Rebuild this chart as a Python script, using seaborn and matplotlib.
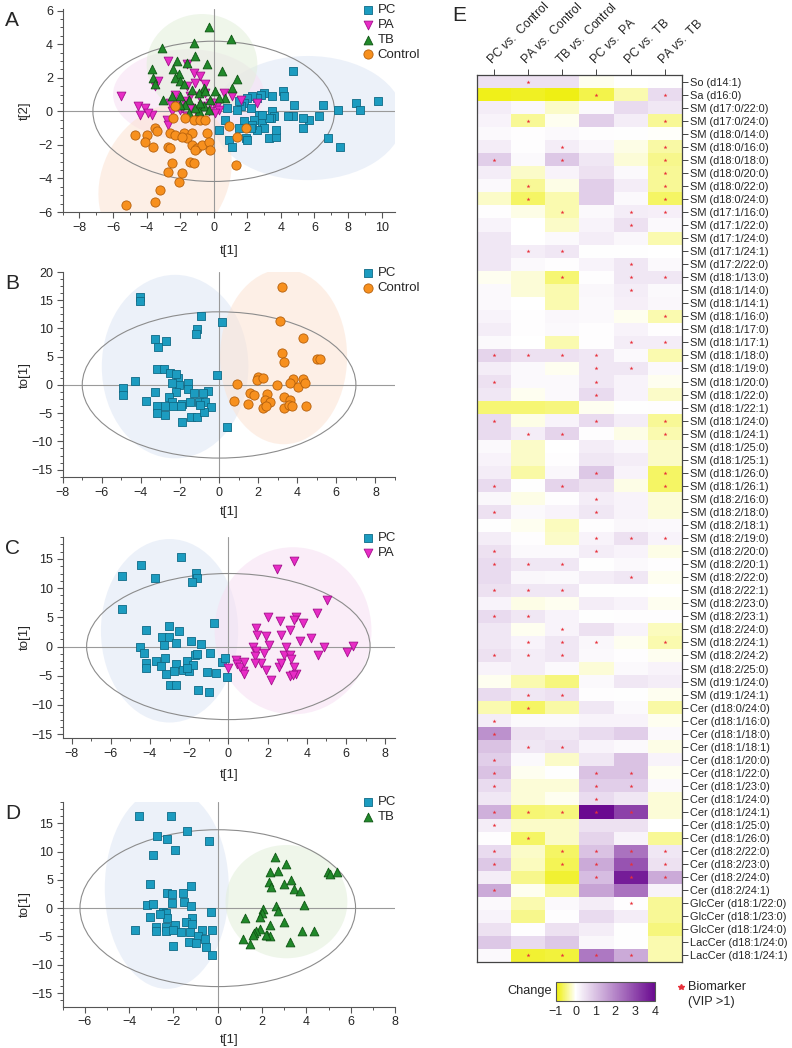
import numpy as np
import pandas as pd
import matplotlib
matplotlib.use("Agg")
import matplotlib.pyplot as plt
import seaborn as sns
from matplotlib.patches import Ellipse
from matplotlib.lines import Line2D
from matplotlib.colors import LinearSegmentedColormap, Normalize
from matplotlib.cm import ScalarMappable
from matplotlib.ticker import MultipleLocator, AutoMinorLocator

# ---------------- score plot data ----------------
a_pc = [(4.7, 2.4), (9.8, 0.6), (8.5, 0.5), (8.7, 0.1), (7.4, 0.1), (6.5, 0.4), (6.3, -0.3),
        (5.7, -0.5), (5.3, -0.4), (5.3, -1.0), (4.8, 0.4), (4.7, -0.3), (4.4, -0.3), (4.1, 1.2),
        (4.2, 0.9), (3.5, 0.9), (3.5, 0.0), (3.6, -0.3), (3.4, -0.4), (3.0, 1.1), (2.8, 1.0),
        (2.6, 0.8), (2.3, 0.9), (2.0, 0.8), (1.8, 0.5), (1.6, 0.3), (1.4, 0.1), (2.2, 0.2),
        (2.7, -0.2), (2.4, -0.5), (2.9, -0.7), (3.0, -1.0), (2.6, -1.1), (2.3, -0.8), (2.2, -1.0),
        (1.8, -0.6), (1.5, -1.0), (1.9, -1.6), (2.0, -1.7), (3.3, -1.6), (3.7, -1.5), (3.7, -1.1),
        (6.8, -1.6), (7.5, -2.1), (0.7, -0.5), (0.3, -1.1), (0.9, -1.7), (1.1, -2.1), (0.8, 0.2),
        (1.5, 0.6), (3.3, -0.4), (2.9, -0.2)]
a_pa = [(-5.5, 0.9), (-4.5, 0.3), (-4.1, 0.2), (-4.4, -0.2), (-3.7, -0.2), (-3.9, -0.1), (-3.5, 1.5),
        (-3.3, 1.8), (-2.7, 3.0), (-1.6, 2.8), (-1.2, 2.3), (-0.8, 2.1), (-0.5, 1.6), (-0.5, 1.1),
        (-0.9, 0.9), (-1.4, 0.9), (-1.8, 0.6), (-2.2, 0.5), (-2.6, 0.5), (-2.3, 1.0), (-1.6, 1.5),
        (-1.1, 1.7), (-0.2, 0.5), (0.2, 0.3), (0.3, 0.1), (0.1, -0.1), (0.6, 1.1), (1.1, 0.9),
        (1.6, 0.7), (2.6, 0.5), (-2.8, -0.5), (-2.7, -0.8), (-1.6, -0.3), (-0.7, 0.3), (-1.0, -0.1),
        (-2.0, 0.1), (-1.4, 0.2), (0.0, 0.5), (-0.3, 0.0), (-1.9, 0.2), (-2.5, 0.0)]
a_tb = [(-0.3, 5.0), (1.0, 4.3), (-1.2, 4.1), (-3.1, 3.8), (-1.1, 3.3), (-2.2, 3.0), (-1.6, 2.9),
        (-0.4, 2.8), (-3.7, 2.5), (-2.4, 2.5), (-3.6, 2.0), (-2.1, 2.2), (-3.5, 1.6), (-2.3, 2.0),
        (-2.0, 1.8), (-1.8, 1.6), (-1.3, 1.3), (-0.6, 1.4), (0.1, 1.2), (0.5, 2.4), (1.4, 1.9),
        (1.1, 1.4), (0.7, 0.8), (-0.9, 1.1), (-0.5, 1.2), (-1.5, 0.7), (-2.0, 0.9), (-2.5, 0.9),
        (-3.0, 0.7), (-0.2, 0.7), (-0.6, 0.3), (-0.9, 0.0), (-0.3, 0.1), (-1.1, 0.2), (-1.7, 0.4),
        (0.3, 0.8), (-0.8, 0.5), (-1.5, -0.1), (-2.0, 0.4)]
a_ct = [(-2.3, 0.3), (-2.4, -0.4), (-1.7, -0.4), (-1.2, -0.5), (-0.8, -0.5), (-0.5, -0.5), (0.9, -0.9),
        (1.9, -1.0), (1.4, -1.5), (-4.7, -1.4), (-4.0, -1.4), (-3.5, -1.0), (-3.4, -1.2), (-2.6, -1.3),
        (-2.3, -1.4), (-1.8, -1.3), (-1.3, -1.3), (-0.4, -1.3), (-4.1, -1.8), (-3.6, -2.1), (-2.7, -2.1),
        (-2.6, -2.2), (-1.6, -1.6), (-1.3, -2.0), (-1.0, -2.2), (-0.7, -2.0), (-0.3, -1.8), (-0.2, -2.3),
        (-1.1, -2.3), (-2.5, -3.1), (-1.4, -3.0), (-1.2, -3.1), (-2.7, -3.6), (-1.9, -3.7), (-2.1, -4.2),
        (1.3, -3.2), (-3.2, -4.7), (-3.5, -5.4), (-5.2, -5.6), (-1.9, -1.5)]

b_pc = [(-4.05, 15.6), (-4.05, 14.8), (-0.92, 12.2), (0.15, 11.1), (-1.12, 9.9), (-1.16, 9.0),
        (-3.3, 8.1), (-2.74, 7.8), (-3.1, 6.7), (-3.2, 2.9), (-2.8, 2.9), (-2.5, 2.2), (-0.1, 1.8),
        (-4.3, 0.65), (-4.9, -0.5), (-4.9, -1.8), (-2.1, 1.3), (-1.6, 0.4), (-2.05, -0.05), (-2.4, 0.4),
        (-0.55, -1.0), (-0.8, -1.5), (-1.6, -0.7), (-2.2, -1.2), (-3.3, -1.3), (-3.75, -2.8),
        (-2.55, -2.2), (-2.4, -3.0), (-1.9, -3.3), (-1.5, -3.0), (-1.05, -3.1), (-0.7, -3.1),
        (-0.4, -3.9), (-3.2, -3.7), (-3.2, -5.0), (-2.75, -5.3), (-2.75, -3.8), (-2.35, -3.7),
        (-1.95, -3.7), (-1.45, -5.6), (-1.15, -5.6), (-0.75, -4.85), (-1.9, -6.6), (0.4, -7.5),
        (-1.0, -3.5), (-1.3, -1.5), (-2.2, 2.0)]
b_ct = [(3.2, 17.3), (3.1, 11.4), (4.3, 8.4), (3.2, 5.6), (3.3, 4.1), (5.0, 4.6), (5.15, 4.6),
        (0.9, 0.25), (0.75, -2.8), (1.6, -1.4), (1.5, -3.4), (2.0, 1.4), (1.95, 0.9), (2.25, 1.2),
        (2.95, 0.0), (2.45, -1.65), (2.35, -2.7), (2.6, -3.0), (2.25, -4.1), (3.3, -2.1), (3.3, -4.1),
        (3.65, -2.7), (3.6, -3.6), (3.75, -3.7), (3.8, 1.1), (3.65, 0.3), (4.05, -0.3), (4.3, 1.05),
        (4.4, 0.4), (4.45, -3.7), (2.4, -3.8), (1.8, -1.8)]

c_pc = [(-2.42, 15.35), (-4.44, 13.9), (-5.43, 12.1), (-3.72, 11.8), (-1.66, 12.6), (-1.62, 11.7),
        (-1.88, 11.0), (-5.4, 6.4), (-0.73, 4.1), (-4.2, 2.8), (-3.04, 3.6), (-2.53, 2.6), (-3.4, 1.6),
        (-3.04, 1.6), (-3.3, 0.35), (-2.68, 0.6), (-1.9, 1.0), (-1.4, 0.5), (-4.5, 0.0), (-4.3, -1.15),
        (-4.2, -2.8), (-4.2, -3.6), (-3.67, -2.5), (-3.46, -3.3), (-3.22, -2.0), (-2.68, -3.0),
        (-3.17, -4.7), (-2.78, -4.25), (-3.0, -6.6), (-2.66, -6.6), (-2.3, -4.0), (-2.1, -2.4),
        (-2.0, -4.1), (-1.8, -3.1), (-1.7, -1.4), (-1.6, -1.2), (-0.94, -1.1), (-1.08, -4.3),
        (-0.63, -4.5), (-1.54, -7.5), (-0.97, -7.8), (-0.34, -2.6), (-0.17, -2.0), (-0.05, -5.2),
        (-2.13, -3.7)]
c_pa = [(3.36, 14.7), (2.46, 13.3), (5.03, 7.9), (4.52, 5.7), (2.0, 5.0), (2.65, 4.4), (3.45, 5.0),
        (3.33, 4.5), (3.83, 4.1), (1.42, 3.1), (1.47, 2.0), (1.93, 1.8), (2.7, 2.0), (3.16, 2.9),
        (3.66, 1.0), (4.2, 1.55), (2.96, 0.0), (2.05, 0.2), (1.26, -0.1), (1.4, -0.7), (1.83, -1.15),
        (1.35, -1.7), (1.64, -2.8), (1.37, -2.75), (1.93, -4.0), (2.18, -5.7), (2.6, -3.45),
        (2.67, -2.8), (2.85, -1.45), (3.12, -1.45), (3.2, -2.1), (3.36, -3.45), (3.45, -4.65),
        (3.12, -5.1), (3.3, -4.8), (4.9, -0.1), (4.56, -1.4), (6.38, 0.1), (6.05, -0.9), (0.39, -2.25),
        (0.46, -3.05), (-0.03, -3.7), (0.77, -4.1), (0.82, -4.7), (0.6, -3.5), (0.8, -2.7)]

d_pc = [(-3.55, 16.3), (-2.09, 16.3), (-1.41, 13.7), (-2.75, 12.7), (-2.31, 12.2), (-0.38, 11.9),
        (-1.95, 10.3), (-2.93, 9.3), (-3.07, 4.25), (-1.2, 4.0), (-2.3, 2.7), (-2.07, 2.5), (-1.56, 2.7),
        (-3.2, 0.5), (-2.92, 0.77), (-2.07, 0.95), (-1.54, 1.06), (-1.22, 0.3), (-0.29, -0.6),
        (-3.07, -1.5), (-2.48, -0.65), (-2.34, -0.8), (-2.31, -1.65), (-1.15, -1.8), (-1.42, -2.4),
        (-1.15, -2.85), (-2.77, -3.3), (-2.33, -3.3), (-1.92, -2.9), (-3.72, -3.8), (-2.77, -4.0),
        (-2.33, -4.0), (-2.04, -3.9), (-1.68, -4.25), (-1.26, -4.25), (-0.7, -3.9), (-0.26, -3.85),
        (-0.91, -4.9), (-1.29, -6.0), (-0.97, -6.2), (-0.56, -5.5), (-0.51, -6.8), (-0.26, -8.3),
        (-2.04, -6.7), (-2.6, -1.0)]
d_tb = [(2.59, 9.1), (3.07, 7.8), (2.38, 6.4), (2.74, 6.6), (3.31, 5.0), (4.96, 6.3), (5.08, 6.0),
        (5.37, 6.3), (2.33, 4.7), (2.41, 3.7), (3.01, 4.2), (3.46, 3.4), (3.69, 3.0), (3.89, 0.5),
        (2.65, 0.35), (2.71, -0.5), (2.04, -0.2), (2.01, -0.9), (1.92, -1.5), (1.21, -1.8), (2.34, -2.9),
        (3.0, -2.5), (1.89, -3.6), (1.74, -4.0), (1.63, -4.3), (1.6, -4.8), (2.22, -4.7), (2.36, -5.0),
        (1.12, -5.4), (1.47, -6.3), (3.25, -6.0), (3.8, -4.1), (4.34, -4.1), (2.18, -4.7)]

# group regions: centre x, centre y, width, height, angle (data units)
a_regions = {"PC": (5.6, -0.4, 11.4, 7.4, 0), "PA": (-1.5, 1.0, 9.0, 5.4, 0),
             "TB": (-0.7, 2.8, 6.6, 6.0, 0), "Control": (-2.9, -4.0, 7.4, 9.4, -30)}
b_regions = {"PC": (-2.25, 3.25, 7.5, 32.5, 0), "Control": (3.3, 5.0, 6.5, 31.0, 0)}
c_regions = {"PC": (-3.0, 2.7, 7.0, 31.4, 0), "PA": (3.3, 2.7, 8.0, 28.6, 0)}
d_regions = {"PC": (-2.3, 3.5, 5.6, 35.5, 0), "TB": (3.1, 1.15, 5.5, 20.0, 0)}
# Hotelling T2 ellipse semi-axes
a_t2 = (7.2, 4.18)
b_t2 = (7.0, 12.95)
c_t2 = (7.23, 12.5)
d_t2 = (6.22, 13.85)

# ---------------- heatmap data ----------------
comparisons = ["PC vs. Control", "PA vs. Control", "TB vs. Control",
               "PC vs. PA", "PC vs. TB", "PA vs. TB"]
lipids = ["So (d14:1)", "Sa (d16:0)", "SM (d17:0/22:0)", "SM (d17:0/24:0)", "SM (d18:0/14:0)",
          "SM (d18:0/16:0)", "SM (d18:0/18:0)", "SM (d18:0/20:0)", "SM (d18:0/22:0)", "SM (d18:0/24:0)",
          "SM (d17:1/16:0)", "SM (d17:1/22:0)", "SM (d17:1/24:0)", "SM (d17:1/24:1)", "SM (d17:2/22:0)",
          "SM (d18:1/13:0)", "SM (d18:1/14:0)", "SM (d18:1/14:1)", "SM (d18:1/16:0)", "SM (d18:1/17:0)",
          "SM (d18:1/17:1)", "SM (d18:1/18:0)", "SM (d18:1/19:0)", "SM (d18:1/20:0)", "SM (d18:1/22:0)",
          "SM (d18:1/22:1)", "SM (d18:1/24:0)", "SM (d18:1/24:1)", "SM (d18:1/25:0)", "SM (d18:1/25:1)",
          "SM (d18:1/26:0)", "SM (d18:1/26:1)", "SM (d18:2/16:0)", "SM (d18:2/18:0)", "SM (d18:2/18:1)",
          "SM (d18:2/19:0)", "SM (d18:2/20:0)", "SM (d18:2/20:1)", "SM (d18:2/22:0)", "SM (d18:2/22:1)",
          "SM (d18:2/23:0)", "SM (d18:2/23:1)", "SM (d18:2/24:0)", "SM (d18:2/24:1)", "SM (d18:2/24:2)",
          "SM (d18:2/25:0)", "SM (d19:1/24:0)", "SM (d19:1/24:1)", "Cer (d18:0/24:0)", "Cer (d18:1/16:0)",
          "Cer (d18:1/18:0)", "Cer (d18:1/18:1)", "Cer (d18:1/20:0)", "Cer (d18:1/22:0)", "Cer (d18:1/23:0)",
          "Cer (d18:1/24:0)", "Cer (d18:1/24:1)", "Cer (d18:1/25:0)", "Cer (d18:1/26:0)", "Cer (d18:2/22:0)",
          "Cer (d18:2/23:0)", "Cer (d18:2/24:0)", "Cer (d18:2/24:1)", "GlcCer (d18:1/22:0)",
          "GlcCer (d18:1/23:0)", "GlcCer (d18:1/24:0)", "LacCer (d18:1/24:0)", "LacCer (d18:1/24:1)"]
change = [
    [0.5, 0.5, 0.5, -0.05, 0.0, 0.02],
    [-0.9, -0.85, -0.92, -0.7, -0.3, 0.6],
    [0.3, 0.15, -0.2, 0.1, 0.6, 0.4],
    [0.2, -0.4, -0.05, 0.8, 0.3, -0.4],
    [0.1, 0.05, 0.1, 0.05, 0.02, -0.02],
    [0.3, 0.05, 0.3, 0.15, -0.1, -0.35],
    [0.8, 0.1, 0.9, 0.4, -0.15, -0.45],
    [0.3, -0.2, 0.2, 0.5, 0.1, -0.4],
    [0.1, -0.4, -0.1, 0.8, 0.3, -0.4],
    [-0.2, -0.6, -0.3, 0.8, 0.1, -0.6],
    [0.05, -0.1, -0.3, 0.1, 0.3, 0.25],
    [0.2, 0.0, -0.2, 0.2, 0.5, 0.1],
    [0.4, 0.0, 0.1, 0.3, 0.15, -0.3],
    [0.4, 0.3, 0.4, 0.02, 0.02, 0.0],
    [0.4, 0.1, 0.05, 0.2, 0.4, 0.1],
    [-0.05, -0.15, -0.55, 0.05, 0.4, 0.4],
    [0.1, -0.15, -0.3, 0.15, 0.3, 0.1],
    [0.1, 0.0, -0.3, 0.1, 0.25, 0.15],
    [0.2, 0.05, 0.15, 0.1, -0.05, -0.3],
    [0.3, 0.05, 0.1, 0.05, 0.2, 0.05],
    [0.1, 0.0, -0.3, 0.05, 0.3, 0.3],
    [0.7, 0.5, 0.5, 0.4, 0.1, -0.3],
    [0.3, 0.1, -0.05, 0.4, 0.4, 0.1],
    [0.5, 0.1, 0.1, 0.4, 0.2, -0.05],
    [0.4, -0.05, 0.1, 0.6, 0.2, -0.2],
    [-0.55, -0.55, -0.5, -0.05, 0.02, 0.05],
    [0.6, -0.1, 0.2, 0.6, 0.3, -0.4],
    [0.6, 0.3, 0.7, 0.05, -0.1, -0.3],
    [0.1, -0.2, 0.0, 0.3, 0.15, -0.2],
    [0.2, -0.2, 0.05, 0.4, 0.3, -0.2],
    [0.3, -0.35, 0.15, 0.9, 0.2, -0.6],
    [0.6, 0.02, 0.7, 0.5, -0.1, -0.6],
    [0.15, -0.1, 0.05, 0.3, 0.2, -0.15],
    [0.5, 0.1, 0.2, 0.4, 0.2, -0.15],
    [0.02, -0.05, -0.25, 0.05, 0.15, 0.1],
    [0.3, 0.05, -0.2, 0.2, 0.5, 0.2],
    [0.5, 0.1, 0.1, 0.3, 0.2, -0.1],
    [0.6, 0.4, 0.4, 0.02, 0.1, 0.05],
    [0.6, 0.15, 0.1, 0.3, 0.4, -0.05],
    [0.5, 0.4, 0.4, 0.02, 0.02, 0.0],
    [0.2, -0.1, -0.05, 0.3, 0.2, -0.05],
    [0.6, 0.4, 0.2, 0.02, 0.05, 0.05],
    [0.4, -0.05, 0.2, 0.5, 0.2, -0.25],
    [0.4, 0.2, 0.4, 0.15, -0.05, -0.3],
    [0.5, 0.3, 0.4, 0.1, 0.05, -0.05],
    [0.2, 0.3, 0.1, -0.15, 0.1, 0.2],
    [-0.05, -0.3, -0.5, 0.1, 0.4, 0.3],
    [0.6, 0.4, 0.5, 0.05, 0.02, -0.05],
    [-0.3, -0.6, -0.35, 0.4, 0.1, -0.35],
    [0.3, 0.1, 0.1, 0.2, 0.2, -0.05],
    [1.8, 0.5, 0.4, 0.6, 0.8, 0.1],
    [1.0, 0.4, 0.5, 0.2, 0.1, -0.1],
    [0.8, 0.1, -0.2, 0.4, 1.0, 0.2],
    [1.0, -0.05, 0.02, 1.0, 1.0, -0.05],
    [0.6, -0.15, -0.15, 0.8, 0.8, 0.1],
    [0.4, -0.15, -0.05, 0.6, 0.4, -0.15],
    [1.3, -0.55, -0.5, 4.0, 3.1, -0.15],
    [0.3, -0.2, -0.2, 0.5, 0.5, 0.0],
    [0.05, -0.6, -0.2, 0.7, 0.2, -0.4],
    [0.6, -0.2, -0.6, 1.0, 2.3, 0.4],
    [0.9, -0.25, -0.65, 1.4, 2.8, 0.5],
    [0.3, -0.45, -0.8, 1.1, 3.7, 1.4],
    [1.4, -0.05, -0.4, 1.5, 2.3, 0.2],
    [0.1, -0.3, 0.1, 0.3, 0.05, -0.4],
    [0.2, -0.45, 0.05, 0.6, 0.3, -0.4],
    [0.5, 0.05, 0.5, 0.3, 0.02, -0.5],
    [0.9, 0.6, 0.9, 0.15, 0.02, -0.3],
    [0.1, -0.8, -0.75, 2.2, 1.4, -0.3],
]
# 1 = biomarker (VIP > 1), one string per lipid, one digit per comparison
biomarker = ["010000", "000101", "000000", "010001", "000000", "001001", "101001", "000001",
             "010001", "010001", "001011", "000010", "000000", "011000", "000010", "001011",
             "000010", "000000", "000001", "000000", "000011", "111100", "000110", "100100",
             "000100", "000000", "100101", "011001", "000000", "000000", "000101", "101001",
             "000100", "100100", "000000", "000111", "100100", "111000", "000010", "111000",
             "000000", "110000", "001000", "011101", "111000", "000000", "000000", "011000",
             "010000", "100000", "100000", "011000", "100000", "100110", "100110", "000100",
             "111110", "100000", "010000", "101111", "101111", "000111", "100000", "000010",
             "000000", "000000", "000000", "011110"]

# ---------------- style ----------------
sns.set_style("ticks")
plt.rcParams["font.family"] = ["Liberation Sans", "DejaVu Sans"]
plt.rcParams["mathtext.fontset"] = "custom"
plt.rcParams["mathtext.rm"] = "Liberation Sans"
plt.rcParams["mathtext.it"] = "Liberation Sans:italic"

groups = {
    "PC": dict(marker="s", color="#1c9cc0", edge="#0f6a86", fill="#dde6f5", s=36),
    "PA": dict(marker="v", color="#e82cc6", edge="#a3118c", fill="#f7dff3", s=40),
    "TB": dict(marker="^", color="#21892a", edge="#0f5514", fill="#e2efda", s=40),
    "Control": dict(marker="o", color="#f7901e", edge="#b5600c", fill="#fce3d3", s=44),
}

fig = plt.figure(figsize=(7.92, 10.48), dpi=100)
W, H = 792, 1048


def px_axes(left, top, right, bottom):
    return fig.add_axes([left / W, 1 - bottom / H, (right - left) / W, (bottom - top) / H])


def score_panel(ax, data, regions, t2, xlim, ylim, xmajor, ymajor, ylabel, letter, legend_top, xlab_y):
    for name, (cx, cy, w, h, ang) in regions.items():
        ax.add_patch(Ellipse((cx, cy), w, h, angle=ang, facecolor=groups[name]["fill"],
                             edgecolor="none", alpha=0.55, zorder=0))
    ax.axhline(0, color="#9a9a9a", lw=0.8, zorder=1)
    ax.axvline(0, color="#9a9a9a", lw=0.8, zorder=1)
    ax.add_patch(Ellipse((0, 0), 2 * t2[0], 2 * t2[1], facecolor="none",
                         edgecolor="#8c8c8c", lw=0.8, zorder=1))
    for name, pts in data.items():
        g = groups[name]
        df = pd.DataFrame(pts, columns=["x", "y"])
        sns.scatterplot(data=df, x="x", y="y", ax=ax, marker=g["marker"], color=g["color"],
                        edgecolor=g["edge"], linewidth=0.6, s=g["s"], label=name, zorder=3)
    ax.set_xlim(*xlim)
    ax.set_ylim(*ylim)
    ax.xaxis.set_major_locator(MultipleLocator(xmajor))
    ax.yaxis.set_major_locator(MultipleLocator(ymajor))
    ax.xaxis.set_minor_locator(AutoMinorLocator(2))
    ax.yaxis.set_minor_locator(AutoMinorLocator(4))
    ax.tick_params(which="major", length=4, width=0.8, color="#555555", labelsize=9, pad=3)
    ax.tick_params(which="minor", length=2.5, width=0.7, color="#555555")
    for side in ["top", "right"]:
        ax.spines[side].set_visible(False)
    for side in ["left", "bottom"]:
        ax.spines[side].set_color("#555555")
        ax.spines[side].set_linewidth(0.8)
    ax.set_xlabel("t[1]", fontsize=9.5)
    ax.set_ylabel(ylabel, fontsize=9.5)
    ax.xaxis.label.set_va("center")
    ax.yaxis.label.set_va("center")
    ax.xaxis.set_label_coords(0.5, xlab_y)
    ax.yaxis.set_label_coords(-0.113, 0.5)
    ax.legend(loc="upper left", bbox_to_anchor=(361 / W, 1 - legend_top / H),
              bbox_transform=fig.transFigure, frameon=False, fontsize=9.5, handletextpad=0.25,
              borderpad=0, borderaxespad=0, labelspacing=0.2, handlelength=1.0)
    pos = ax.get_position()
    fig.text(0.006, pos.y1 - 0.002, letter, fontsize=15, va="top", ha="left")


ax_a = px_axes(62.7, 9, 395, 212)
score_panel(ax_a, {"PC": a_pc, "PA": a_pa, "TB": a_tb, "Control": a_ct}, a_regions, a_t2,
            (-9.0, 10.8), (-6.0, 6.1), 2, 2, "t[2]", "A", 4, -0.19)
ax_b = px_axes(62.7, 272, 395, 477)
score_panel(ax_b, {"PC": b_pc, "Control": b_ct}, b_regions, b_t2,
            (-8.0, 9.0), (-16.3, 20.0), 2, 5, "to[1]", "B", 267, -0.17)
ax_c = px_axes(62.7, 536.7, 395, 738.3)
score_panel(ax_c, {"PC": c_pc, "PA": c_pa}, c_regions, c_t2,
            (-8.45, 8.5), (-15.7, 18.8), 2, 5, "to[1]", "C", 532, -0.18)
ax_d = px_axes(62.7, 801.7, 395, 1006.7)
score_panel(ax_d, {"PC": d_pc, "TB": d_tb}, d_regions, d_t2,
            (-7.0, 8.0), (-17.4, 18.8), 2, 5, "to[1]", "D", 796, -0.162)

# ---------------- heatmap ----------------
cmap = LinearSegmentedColormap.from_list(
    "change", [(0.0, "#eeee00"), (0.2, "#ffffff"), (1.0, "#6a0a90")])
norm = Normalize(vmin=-1, vmax=4)
heat = pd.DataFrame(change, index=lipids, columns=comparisons)
xlabels = [c.replace(" vs. ", r" $\mathit{vs.}$ ") for c in comparisons]

ax_e = px_axes(476.7, 75, 682, 962)
sns.heatmap(heat, ax=ax_e, cmap=cmap, norm=norm, cbar=False,
            xticklabels=xlabels, yticklabels=lipids)
mask = np.array([[int(ch) for ch in row] for row in biomarker])
rows, cols = np.nonzero(mask)
ax_e.scatter(cols + 0.5, rows + 0.5, marker="*", s=9, color="#e8303a", linewidths=0, zorder=4)

ax_e.xaxis.tick_top()
ax_e.yaxis.tick_right()
ax_e.set_xlabel("")
ax_e.set_ylabel("")
ax_e.set_xticklabels(xlabels, rotation=45, ha="left", rotation_mode="anchor", fontsize=8.8)
ax_e.set_yticklabels(lipids, rotation=0, fontsize=7.9)
ax_e.tick_params(axis="x", top=True, bottom=False, length=4, width=0.7, color="#444444", pad=2)
ax_e.tick_params(axis="y", right=True, left=False, length=4, width=0.7, color="#444444", pad=2)
for sp in ax_e.spines.values():
    sp.set_visible(True)
    sp.set_color("#444444")
    sp.set_linewidth(0.9)
fig.text(452 / W, 1 - 6 / H, "E", fontsize=15, va="top", ha="left")

# colour bar and biomarker key
ax_cb = px_axes(555.7, 981.7, 655, 1000.7)
cb = fig.colorbar(ScalarMappable(norm=norm, cmap=cmap), cax=ax_cb, orientation="horizontal")
cb.set_ticks([-1, 0, 1, 2, 3, 4])
cb.outline.set_edgecolor("#555555")
cb.outline.set_linewidth(0.8)
ax_cb.tick_params(axis="x", top=True, bottom=False, labeltop=False, labelbottom=True,
                  direction="in", length=3, width=0.7, color="#333333", labelsize=9, pad=4)
fig.text(552 / W, 1 - 991 / H, "Change", fontsize=9.2, ha="right", va="center")
fig.add_artist(Line2D([681 / W], [1 - 987 / H], marker="*", markersize=4, color="#e8303a",
                      linestyle="none", transform=fig.transFigure))
fig.text(688 / W, 1 - 987 / H, "Biomarker", fontsize=9.2, ha="left", va="center")
fig.text(688 / W, 1 - 1002 / H, "(VIP >1)", fontsize=9.2, ha="left", va="center")

fig.savefig("out.png", dpi=100)
